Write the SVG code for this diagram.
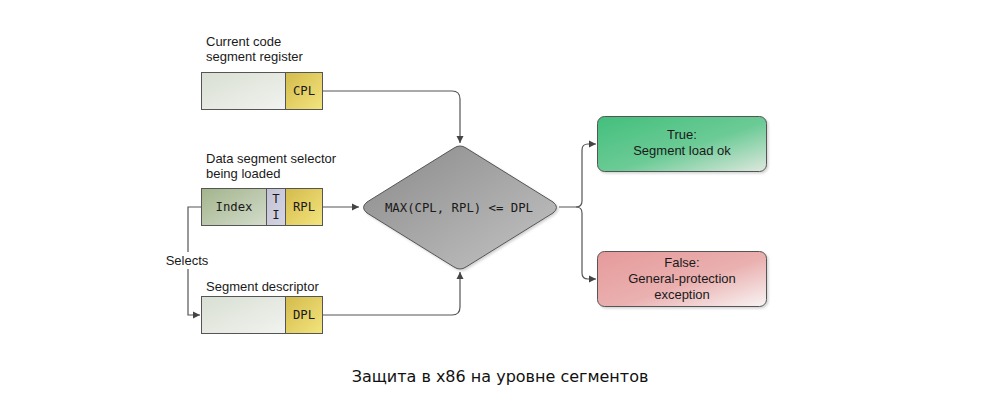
<svg xmlns="http://www.w3.org/2000/svg" width="1000" height="403" viewBox="0 0 1000 403">
<style>
.lbl{font-family:"Liberation Sans",Arial,sans-serif;font-size:13px;fill:#1a1a1a}
.mono{font-family:"DejaVu Sans Mono","Liberation Mono",monospace;font-size:12.3px;fill:#1a1a1a}
.box{stroke:#555;stroke-width:1}
.conn{fill:none;stroke:#555;stroke-width:1.2}
.cap{font-family:"DejaVu Sans",Verdana,sans-serif;font-size:16px;fill:#111}
</style>
<defs>
<linearGradient id="gPlain" x1="0" y1="0" x2="1" y2="1"><stop offset="0" stop-color="#d9dfd3"/><stop offset="1" stop-color="#f1f3ef"/></linearGradient>
<linearGradient id="gYel" x1="0" y1="0" x2="1" y2="1"><stop offset="0" stop-color="#d4bb4c"/><stop offset="1" stop-color="#f3e47e"/></linearGradient>
<linearGradient id="gIdx" x1="0" y1="0" x2="1" y2="1"><stop offset="0" stop-color="#a3b48c"/><stop offset="1" stop-color="#d3dccb"/></linearGradient>
<linearGradient id="gTI" x1="0" y1="0" x2="1" y2="1"><stop offset="0" stop-color="#c2c2d6"/><stop offset="1" stop-color="#d4d4e2"/></linearGradient>
<linearGradient id="gDia" x1="0" y1="0" x2="1" y2="1"><stop offset="0" stop-color="#8a8a8a"/><stop offset="1" stop-color="#c4c4c4"/></linearGradient>
<linearGradient id="gTrue" x1="0" y1="0" x2="1" y2="1"><stop offset="0" stop-color="#43bf7c"/><stop offset="0.55" stop-color="#6ccb96"/><stop offset="1" stop-color="#dfe8df"/></linearGradient>
<linearGradient id="gFalse" x1="0" y1="0" x2="1" y2="1"><stop offset="0" stop-color="#e69a9a"/><stop offset="0.55" stop-color="#eab0b0"/><stop offset="1" stop-color="#f9f4f4"/></linearGradient>
<marker id="arr" markerWidth="8" markerHeight="8" refX="7" refY="4" orient="auto" markerUnits="userSpaceOnUse"><path d="M0,0.5 L7,4 L0,7.5 Z" fill="#444"/></marker>
<filter id="sh" x="-10%" y="-10%" width="130%" height="130%"><feDropShadow dx="1.5" dy="1.5" stdDeviation="1.2" flood-color="#000" flood-opacity="0.18"/></filter>
</defs>

<g id="connectors">
<path class="conn" d="M323,91 H452 Q460,91 460,99 V143" marker-end="url(#arr)"/>
<path class="conn" d="M323,207 H359" marker-end="url(#arr)"/>
<path class="conn" d="M323,315 H452 Q460,315 460,307 V272" marker-end="url(#arr)"/>
<path class="conn" d="M201,207 H188 V315 H200" marker-end="url(#arr)"/>
<path class="conn" d="M559,207 H576 Q582,207 582,201 V150 Q582,144 588,144 H596" marker-end="url(#arr)"/>
<path class="conn" d="M576,207 Q582,207 582,213 V273 Q582,279 588,279 H596" marker-end="url(#arr)"/>
<rect x="160" y="252" width="54" height="17" fill="#fff"/>
<text class="lbl" x="187" y="265" text-anchor="middle">Selects</text>
</g>

<g id="cs-register">
<text class="lbl" x="206" y="46">Current code</text>
<text class="lbl" x="206" y="61">segment register</text>
<rect class="box" x="201.5" y="72.5" width="84" height="37" fill="url(#gPlain)"/>
<rect class="box" x="285.5" y="72.5" width="37" height="37" fill="url(#gYel)"/>
<text class="mono" x="304" y="95" text-anchor="middle">CPL</text>
</g>

<g id="selector">
<text class="lbl" x="206" y="163">Data segment selector</text>
<text class="lbl" x="206" y="178">being loaded</text>
<rect class="box" x="201.5" y="188.5" width="65" height="37" fill="url(#gIdx)"/>
<rect class="box" x="266.5" y="188.5" width="19" height="37" fill="url(#gTI)"/>
<rect class="box" x="285.5" y="188.5" width="37" height="37" fill="url(#gYel)"/>
<text class="mono" x="234" y="211" text-anchor="middle">Index</text>
<text class="mono" x="276" y="203" text-anchor="middle">T</text>
<text class="mono" x="276" y="219" text-anchor="middle">I</text>
<text class="mono" x="304" y="211" text-anchor="middle">RPL</text>
</g>

<g id="descriptor">
<text class="lbl" x="206" y="291">Segment descriptor</text>
<rect class="box" x="201.5" y="296.5" width="84" height="37" fill="url(#gPlain)"/>
<rect class="box" x="285.5" y="296.5" width="37" height="37" fill="url(#gYel)"/>
<text class="mono" x="304" y="319" text-anchor="middle">DPL</text>
</g>

<g id="decision">
<path d="M454,148 Q460,144 466,148 L553,202 Q560,207.5 553,213 L466,267 Q460,271 454,267 L367,213 Q360,207.5 367,202 Z" fill="url(#gDia)" stroke="#555" stroke-width="1" filter="url(#sh)"/>
<text class="mono" x="459" y="212" text-anchor="middle" font-size="12.7">MAX(CPL, RPL) &lt;= DPL</text>
</g>

<g id="true">
<rect x="597.5" y="116.5" width="169" height="55" rx="7" fill="url(#gTrue)" stroke="#555" filter="url(#sh)"/>
<text class="lbl" x="682" y="139" text-anchor="middle">True:</text>
<text class="lbl" x="682" y="155" text-anchor="middle">Segment load ok</text>
</g>

<g id="false">
<rect x="597.5" y="251.5" width="169" height="55" rx="7" fill="url(#gFalse)" stroke="#555" filter="url(#sh)"/>
<text class="lbl" x="682" y="267" text-anchor="middle">False:</text>
<text class="lbl" x="682" y="283" text-anchor="middle">General-protection</text>
<text class="lbl" x="682" y="299" text-anchor="middle">exception</text>
</g>

<text class="cap" x="500" y="382" text-anchor="middle">Защита в x86 на уровне сегментов</text>
</svg>
